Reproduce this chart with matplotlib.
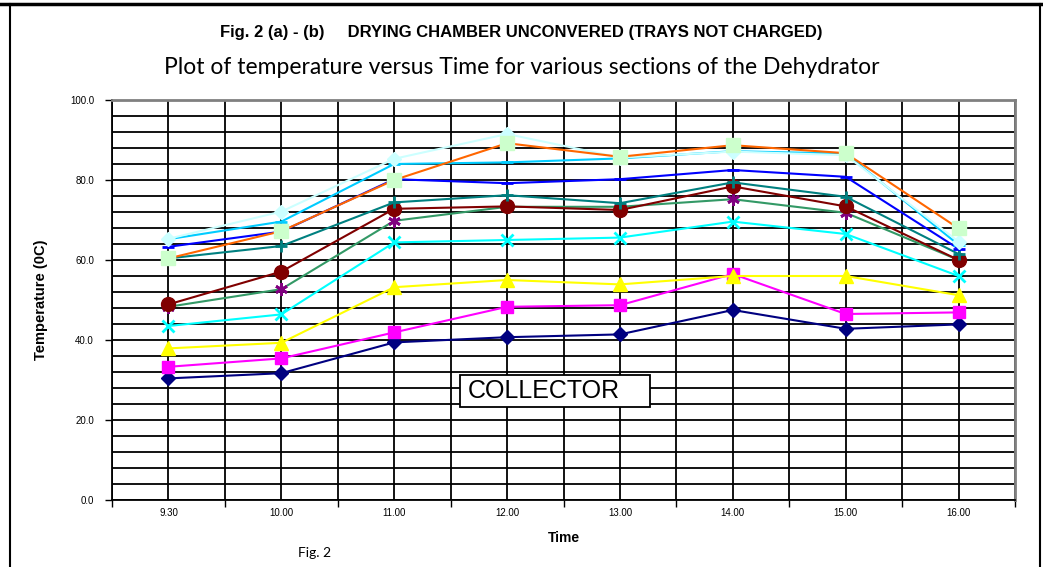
import matplotlib
matplotlib.use("Agg")
import matplotlib.pyplot as plt
from matplotlib.lines import Line2D
from matplotlib.patches import Rectangle

times = ["9.30", "10.00", "11.00", "12.00", "13.00", "14.00", "15.00", "16.00"]

s_navy = [30.4, 31.7, 39.4, 40.7, 41.4, 47.5, 42.8, 43.9]
s_magenta = [33.3, 35.4, 41.9, 48.3, 48.7, 56.5, 46.5, 46.9]
s_yellow = [37.9, 39.3, 53.2, 55.0, 53.9, 56.0, 56.0, 51.2]
s_cyan = [43.5, 46.4, 64.4, 65.0, 65.6, 69.6, 66.5, 56.0]
s_purple = [48.3, 52.7, 69.8, 73.3, 73.3, 75.2, 71.8, 60.0]
s_darkred = [48.9, 57.1, 72.8, 73.4, 72.5, 78.4, 73.4, 60.0]
s_teal = [60.4, 63.5, 74.4, 76.2, 74.2, 79.4, 75.8, 61.5]
s_blue = [63.3, 67.1, 80.2, 79.2, 80.2, 82.5, 80.8, 62.8]
s_skyblue = [65.2, 69.6, 84.0, 84.4, 85.4, 87.2, 86.6, 63.8]
s_lightcyan = [65.3, 72.1, 85.3, 91.5, 85.6, 87.1, 86.2, 64.6]
s_orange = [60.4, 67.2, 80.0, 89.2, 85.8, 88.7, 86.7, 67.9]

series = [
    (s_navy, "#000080", "D", "#000080", 7),
    (s_magenta, "#FF00FF", "s", "#FF00FF", 9),
    (s_yellow, "#FFFF00", "^", "#FFFF00", 10),
    (s_cyan, "#00FFFF", "x", "#00FFFF", 9),
    (s_purple, "#339966", (6, 2, 0), "#800080", 9),
    (s_darkred, "#800000", "o", "#800000", 10),
    (s_teal, "#008080", "+", "#008080", 9),
    (s_blue, "#0000FF", "_", "#0000FF", 8),
    (s_skyblue, "#00CCFF", "_", "#00CCFF", 8),
    (s_lightcyan, "#CCFFFF", "D", "#CCFFFF", 7),
    (s_orange, "#FF6600", "s", "#CCFFCC", 10),
]

fig = plt.figure(figsize=(10.43, 5.67), dpi=100)
ax = fig.add_axes([112 / 1043, 1 - 500 / 567, 903 / 1043, 400 / 567])

x = list(range(len(times)))
ax.set_xlim(-0.5, len(times) - 0.5)
ax.set_ylim(0, 100)

# grid
for g in range(0, 101, 4):
    ax.axhline(g, color="black", lw=1.3, zorder=1)
for i in range(2 * len(times) + 1):
    ax.axvline(-0.5 + 0.5 * i, color="black", lw=1.3, zorder=1)

for vals, lc, mk, mc, ms in series:
    ax.plot(x, vals, color=lc, lw=1.5, marker=mk, markersize=ms,
            markerfacecolor=mc, markeredgecolor=mc,
            markeredgewidth=2 if mk in ("x", "+", "_") or isinstance(mk, tuple) else 1,
            zorder=3)

ax.set_yticks(range(0, 101, 20))
ax.set_yticklabels([f"{v:.1f}" for v in range(0, 101, 20)], fontsize=7, family="Liberation Sans")
ax.set_xticks([i - 0.5 for i in range(len(times) + 1)], minor=False)
ax.set_xticklabels([])
ax.set_xticks(x, minor=True)
ax.set_xticklabels(times, minor=True, fontsize=7, family="Liberation Sans")
ax.tick_params(axis="x", which="minor", length=0, pad=6)
ax.tick_params(axis="x", which="major", length=5, width=1, direction="out")
ax.tick_params(axis="y", length=5, width=1, direction="out", pad=8)

for s in ("top", "right"):
    ax.spines[s].set_color("#808080")
    ax.spines[s].set_linewidth(2)
for s in ("left", "bottom"):
    ax.spines[s].set_color("black")
    ax.spines[s].set_linewidth(1.3)

ax.set_ylabel("Temperature (0C)", fontsize=10.5, fontweight="bold", family="Liberation Sans", labelpad=16)
ax.set_xlabel("Time", fontsize=10, fontweight="bold", family="Liberation Sans", labelpad=9)

# collector box
ax.add_patch(Rectangle((0.3854, 0.2325), 0.2104, 0.08, transform=ax.transAxes,
                       facecolor="white", edgecolor="black", linewidth=1.3, zorder=5))
ax.text(0.3942, 0.2725, "COLLECTOR", transform=ax.transAxes, fontsize=18, family="Liberation Sans",
        va="center", ha="left", zorder=6)

fig.text(0.5, 1 - 32 / 567, "Fig. 2 (a) - (b)     DRYING CHAMBER UNCONVERED (TRAYS NOT CHARGED)",
         ha="center", va="center", fontsize=12, fontweight="bold", family="Liberation Sans")
fig.text(0.5, 1 - 67 / 567, "Plot of temperature versus Time for various sections of the Dehydrator",
         ha="center", va="center", fontsize=16.5, family="Lato")
fig.text(315 / 1043, 1 - 553 / 567, "Fig. 2", ha="center", va="center", fontsize=10, family="Lato")

# outer frame
fig.add_artist(Line2D([0, 1], [1 - 4 / 567, 1 - 4 / 567], color="black", lw=2.5, transform=fig.transFigure))
fig.add_artist(Line2D([10 / 1043, 10 / 1043], [0, 1 - 4 / 567], color="black", lw=1.5, transform=fig.transFigure))
fig.add_artist(Line2D([1040 / 1043, 1040 / 1043], [0, 1 - 4 / 567], color="black", lw=1.5, transform=fig.transFigure))

fig.savefig("out.png", dpi=100)
